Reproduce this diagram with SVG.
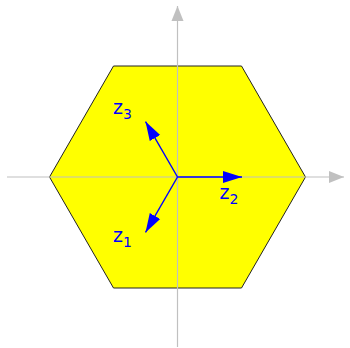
<svg xmlns="http://www.w3.org/2000/svg" width="350" height="348" viewBox="0 0 350 348">
<defs>
<style>
.axis{stroke:#c0c0c0;stroke-width:1.2;fill:none}
.vec{stroke:#0000ff;stroke-width:1.4;fill:none}
.lbl{font-family:"DejaVu Sans",sans-serif;fill:#0000ff;font-size:19px}
.sub{font-size:14px}
</style>
<marker id="ah" markerUnits="userSpaceOnUse" markerWidth="20" markerHeight="14" refX="19" refY="7" orient="auto">
<path d="M0,1 L19,7 L0,13 Z" fill="#0000ff"/>
</marker>
<marker id="ag" markerUnits="userSpaceOnUse" markerWidth="16" markerHeight="14" refX="15" refY="7" orient="auto">
<path d="M0,1 L15,7 L0,13 Z" fill="#c0c0c0"/>
</marker>
</defs>
<g id="hexagon">
<polygon points="49.5,177 113.5,66 241.5,66 305.5,177 241.5,288 113.5,288" fill="#ffff00" stroke="#222" stroke-width="1"/>
</g>
<g id="axes">
<line class="axis" x1="7" y1="177" x2="344" y2="177" marker-end="url(#ag)"/>
<line class="axis" x1="177.5" y1="347" x2="177.5" y2="6" marker-end="url(#ag)"/>
</g>
<g id="connectors">
<line class="vec" x1="177.5" y1="177" x2="242" y2="177" marker-end="url(#ah)"/>
<line class="vec" x1="177.5" y1="177" x2="145.5" y2="121.6" marker-end="url(#ah)"/>
<line class="vec" x1="177.5" y1="177" x2="145.5" y2="232.4" marker-end="url(#ah)"/>
</g>
<g id="z3"><text class="lbl" x="113" y="114">z<tspan class="sub" dy="5">3</tspan></text></g>
<g id="z2"><text class="lbl" x="219.5" y="199">z<tspan class="sub" dy="5">2</tspan></text></g>
<g id="z1"><text class="lbl" x="113" y="242">z<tspan class="sub" dy="5">1</tspan></text></g>
</svg>
